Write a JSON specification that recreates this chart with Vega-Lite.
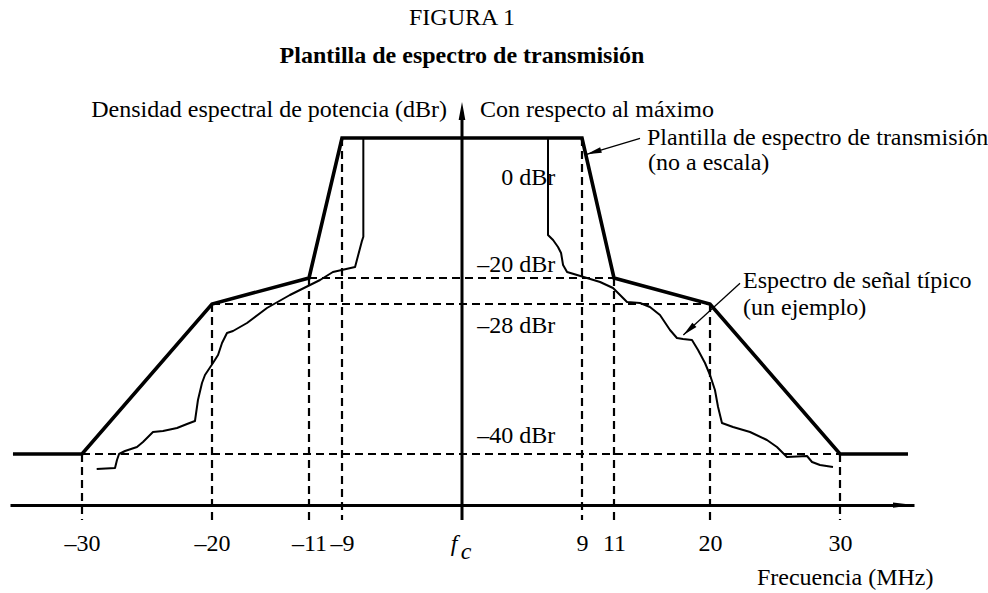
{
  "$schema": "https://vega.github.io/schema/vega-lite/v6.json",
  "autosize": {"type": "none"},
  "padding": {"left": 10, "top": 90, "right": 74, "bottom": 88},
  "width": 904,
  "height": 415,
  "background": "white",
  "config": {"view": {"stroke": null}, "font": "Liberation Serif"},
  "title": {
    "text": "FIGURA 1",
    "subtitle": "Plantilla de espectro de transmisión",
    "font": "Liberation Serif",
    "fontSize": 24,
    "fontWeight": "normal",
    "color": "black",
    "subtitleFont": "Liberation Serif",
    "subtitleFontSize": 24,
    "subtitleFontWeight": "bold",
    "subtitleColor": "black",
    "subtitlePadding": 14,
    "offset": 22,
    "anchor": "middle",
    "frame": "group"
  },
  "datasets": {
    "plantilla": [
      {"f": -35.31, "dBr": -40, "n": 1},
      {"f": -30, "dBr": -40, "n": 2},
      {"f": -20, "dBr": -28, "n": 3},
      {"f": -11, "dBr": -20, "n": 4},
      {"f": -9, "dBr": 0, "n": 5},
      {"f": 9, "dBr": 0, "n": 6},
      {"f": 11, "dBr": -20, "n": 7},
      {"f": 20, "dBr": -28, "n": 8},
      {"f": 30, "dBr": -40, "n": 9},
      {"f": 35.23, "dBr": -40, "n": 10}
    ],
    "senal": [
      {"tramo": "izquierda", "n": 1, "f": -28.87, "dBr": -41.2},
      {"tramo": "izquierda", "n": 2, "f": -27.46, "dBr": -41.12},
      {"tramo": "izquierda", "n": 3, "f": -27.31, "dBr": -40.48},
      {"tramo": "izquierda", "n": 4, "f": -27.15, "dBr": -40.0},
      {"tramo": "izquierda", "n": 5, "f": -26.69, "dBr": -39.76},
      {"tramo": "izquierda", "n": 6, "f": -25.77, "dBr": -39.44},
      {"tramo": "izquierda", "n": 7, "f": -25.31, "dBr": -39.04},
      {"tramo": "izquierda", "n": 8, "f": -24.54, "dBr": -38.24},
      {"tramo": "izquierda", "n": 9, "f": -23.77, "dBr": -38.16},
      {"tramo": "izquierda", "n": 10, "f": -22.69, "dBr": -37.92},
      {"tramo": "izquierda", "n": 11, "f": -21.92, "dBr": -37.6},
      {"tramo": "izquierda", "n": 12, "f": -21.31, "dBr": -37.36},
      {"tramo": "izquierda", "n": 13, "f": -21.08, "dBr": -35.68},
      {"tramo": "izquierda", "n": 14, "f": -20.77, "dBr": -34.32},
      {"tramo": "izquierda", "n": 15, "f": -20.54, "dBr": -33.68},
      {"tramo": "izquierda", "n": 16, "f": -19.91, "dBr": -32.72},
      {"tramo": "izquierda", "n": 17, "f": -19.44, "dBr": -32.08},
      {"tramo": "izquierda", "n": 18, "f": -19.07, "dBr": -31.12},
      {"tramo": "izquierda", "n": 19, "f": -18.61, "dBr": -30.32},
      {"tramo": "izquierda", "n": 20, "f": -18.05, "dBr": -30.16},
      {"tramo": "izquierda", "n": 21, "f": -16.75, "dBr": -29.52},
      {"tramo": "izquierda", "n": 22, "f": -14.9, "dBr": -28.32},
      {"tramo": "izquierda", "n": 23, "f": -12.77, "dBr": -25.23},
      {"tramo": "izquierda", "n": 24, "f": -10.33, "dBr": -20.62},
      {"tramo": "izquierda", "n": 25, "f": -9.55, "dBr": -19.14},
      {"tramo": "izquierda", "n": 26, "f": -8.02, "dBr": -18.43},
      {"tramo": "izquierda", "n": 27, "f": -7.52, "dBr": -14.81},
      {"tramo": "izquierda", "n": 28, "f": -7.4, "dBr": -14.1},
      {"tramo": "izquierda", "n": 29, "f": -7.4, "dBr": 0},
      {"tramo": "derecha", "n": 30, "f": 6.45, "dBr": 0},
      {"tramo": "derecha", "n": 31, "f": 6.45, "dBr": -13.86},
      {"tramo": "derecha", "n": 32, "f": 6.83, "dBr": -14.57},
      {"tramo": "derecha", "n": 33, "f": 7.2, "dBr": -15.57},
      {"tramo": "derecha", "n": 34, "f": 7.43, "dBr": -16.43},
      {"tramo": "derecha", "n": 35, "f": 7.58, "dBr": -18.14},
      {"tramo": "derecha", "n": 36, "f": 7.88, "dBr": -19.14},
      {"tramo": "derecha", "n": 37, "f": 8.63, "dBr": -19.57},
      {"tramo": "derecha", "n": 38, "f": 9.31, "dBr": -20.0},
      {"tramo": "derecha", "n": 39, "f": 10.13, "dBr": -21.23},
      {"tramo": "derecha", "n": 40, "f": 10.94, "dBr": -23.08},
      {"tramo": "derecha", "n": 41, "f": 12.22, "dBr": -27.38},
      {"tramo": "derecha", "n": 42, "f": 13.44, "dBr": -27.69},
      {"tramo": "derecha", "n": 43, "f": 14.37, "dBr": -28.24},
      {"tramo": "derecha", "n": 44, "f": 15.31, "dBr": -28.88},
      {"tramo": "derecha", "n": 45, "f": 16.25, "dBr": -30.08},
      {"tramo": "derecha", "n": 46, "f": 16.9, "dBr": -30.72},
      {"tramo": "derecha", "n": 47, "f": 17.47, "dBr": -30.8},
      {"tramo": "derecha", "n": 48, "f": 18.31, "dBr": -30.88},
      {"tramo": "derecha", "n": 49, "f": 18.88, "dBr": -31.68},
      {"tramo": "derecha", "n": 50, "f": 19.53, "dBr": -32.72},
      {"tramo": "derecha", "n": 51, "f": 20.0, "dBr": -33.68},
      {"tramo": "derecha", "n": 52, "f": 20.38, "dBr": -34.88},
      {"tramo": "derecha", "n": 53, "f": 20.62, "dBr": -36.24},
      {"tramo": "derecha", "n": 54, "f": 20.92, "dBr": -37.52},
      {"tramo": "derecha", "n": 55, "f": 21.77, "dBr": -37.84},
      {"tramo": "derecha", "n": 56, "f": 23.08, "dBr": -38.24},
      {"tramo": "derecha", "n": 57, "f": 24.38, "dBr": -38.88},
      {"tramo": "derecha", "n": 58, "f": 25.15, "dBr": -39.44},
      {"tramo": "derecha", "n": 59, "f": 25.92, "dBr": -40.24},
      {"tramo": "derecha", "n": 60, "f": 27.46, "dBr": -40.16},
      {"tramo": "derecha", "n": 61, "f": 27.85, "dBr": -40.64},
      {"tramo": "derecha", "n": 62, "f": 28.46, "dBr": -40.88},
      {"tramo": "derecha", "n": 63, "f": 29.46, "dBr": -41.04}
    ],
    "guias": [
      {"f": -11, "f2": 11, "dBr": -20, "dBr2": -20},
      {"f": -20, "f2": 20, "dBr": -28, "dBr2": -28},
      {"f": -30, "f2": 30, "dBr": -40, "dBr2": -40},
      {"f": -30, "f2": -30, "dBr": -40, "dBr2": -45.28},
      {"f": -20, "f2": -20, "dBr": -28, "dBr2": -45.28},
      {"f": -11, "f2": -11, "dBr": -20, "dBr2": -45.28},
      {"f": -9, "f2": -9, "dBr": 0, "dBr2": -45.28},
      {"f": 9, "f2": 9, "dBr": 0, "dBr2": -45.28},
      {"f": 11, "f2": 11, "dBr": -20, "dBr2": -45.28},
      {"f": 20, "f2": 20, "dBr": -28, "dBr2": -45.28},
      {"f": 30, "f2": 30, "dBr": -40, "dBr2": -45.28}
    ],
    "eje": [{"f": 0, "f2": 0, "dBr": -45.28, "dBr2": 2.6}],
    "flechas": [
      {"nombre": "plantilla", "f": 13.44, "dBr": -0.04, "f2": 9.29, "dBr2": -2.33},
      {"nombre": "espectro", "f": 22.31, "dBr": -21.63, "f2": 17.5, "dBr2": -30.48}
    ],
    "puntas": [
      {"nombre": "eje_y", "f": 0, "dBr": 5.14},
      {"nombre": "eje_x", "f": 35.69, "dBr": -44.08},
      {"nombre": "plantilla", "f": 9.29, "dBr": -2.33},
      {"nombre": "espectro", "f": 17.5, "dBr": -30.48}
    ],
    "textos_der": [
      {"t": "Densidad espectral de potencia (dBr)", "f": -1.12, "dBr": 3.0},
      {"t": "0 dBr", "f": 7.0, "dBr": -6.71},
      {"t": "–20 dBr", "f": 7.0, "dBr": -19.1},
      {"t": "–28 dBr", "f": 7.0, "dBr": -30.32},
      {"t": "–40 dBr", "f": 7.0, "dBr": -39.12}
    ],
    "textos_izq": [
      {"t": "Con respecto al máximo", "f": 1.35, "dBr": 3.0},
      {"t": "Plantilla de espectro de transmisión", "f": 14.09, "dBr": -1.0},
      {"t": "(no a escala)", "f": 14.19, "dBr": -4.57},
      {"t": "Espectro de señal típico", "f": 22.54, "dBr": -23.08},
      {"t": "(un ejemplo)", "f": 22.54, "dBr": -28.88}
    ],
    "subindice": [{"t": "c", "f": -0.1, "dBr": -48.4}]
  },
  "encoding": {
    "x": {
      "field": "f", "type": "quantitative",
      "scale": {"domain": [-35.538, -30, -20, -11, -9, 0, 9, 11, 20, 30, 35.692], "range": [0, 72, 202, 299, 332, 452, 572, 604, 700, 830, 904], "nice": false, "zero": false},
      "axis": {
        "values": [-30, -20, -11, -9, 0, 9, 11, 20, 30],
        "labelExpr": "datum.value == 0 ? 'f' : (datum.value < 0 ? '–' + (-datum.value) : '' + datum.value)",
        "labelFont": "Liberation Serif",
        "labelFontSize": 24,
        "labelColor": "black",
        "labelFontStyle": {"condition": {"test": "datum.value == 0", "value": "italic"}, "value": "normal"},
        "labelAlign": {"condition": {"test": "datum.value == 0", "value": "right"}, "value": "center"},
        "labelOffset": {"condition": {"test": "datum.value == 0", "value": -5}, "value": 0},
        "labelBaseline": "alphabetic",
        "labelPadding": 45,
        "labelFlush": false,
        "labelOverlap": false,
        "labelBound": false,
        "ticks": false,
        "grid": false,
        "domain": true,
        "domainColor": "black",
        "domainWidth": 3,
        "title": "Frecuencia (MHz)",
        "titleFont": "Liberation Serif",
        "titleFontSize": 24,
        "titleFontWeight": "normal",
        "titleColor": "black",
        "titleX": 923,
        "titleY": 79,
        "titleAlign": "right",
        "titleBaseline": "alphabetic",
        "titleAngle": 0
      }
    },
    "y": {
      "field": "dBr", "type": "quantitative",
      "scale": {"domain": [-48, -40, -28, -20, 0, 12], "range": [464, 364, 214, 188, 48, -36], "nice": false, "zero": false},
      "axis": null
    }
  },
  "layer": [
    {
      "data": {"name": "guias"},
      "mark": {"type": "rule", "color": "black", "strokeWidth": 2.2, "strokeDash": [8, 5]},
      "encoding": {"x2": {"field": "f2"}, "y2": {"field": "dBr2"}}
    },
    {
      "data": {"name": "eje"},
      "mark": {"type": "rule", "color": "black", "strokeWidth": 3},
      "encoding": {"y2": {"field": "dBr2"}}
    },
    {
      "data": {"name": "senal"},
      "mark": {"type": "line", "color": "black", "strokeWidth": 2, "strokeJoin": "round"},
      "encoding": {
        "detail": {"field": "tramo", "type": "nominal"},
        "order": {"field": "n", "type": "quantitative"}
      }
    },
    {
      "data": {"name": "plantilla"},
      "mark": {"type": "line", "color": "black", "strokeWidth": 3.6, "strokeJoin": "miter"},
      "encoding": {"order": {"field": "n", "type": "quantitative"}}
    },
    {
      "data": {"name": "flechas"},
      "mark": {"type": "rule", "color": "black", "strokeWidth": 1.3},
      "encoding": {"x2": {"field": "f2"}, "y2": {"field": "dBr2"}}
    },
    {
      "data": {"name": "puntas"},
      "transform": [{"filter": "datum.nombre == 'eje_y'"}],
      "mark": {"type": "point", "filled": true, "color": "black", "opacity": 1, "strokeWidth": 0, "shape": "M0,0L0.37,2L-0.37,2Z", "size": 324},
      "encoding": {}
    },
    {
      "data": {"name": "puntas"},
      "transform": [{"filter": "datum.nombre == 'eje_x'"}],
      "mark": {"type": "point", "filled": true, "color": "black", "opacity": 1, "strokeWidth": 0, "shape": "M0,0L-2,-0.25L-2,0.25Z", "size": 441},
      "encoding": {}
    },
    {
      "data": {"name": "puntas"},
      "transform": [{"filter": "datum.nombre == 'plantilla'"}],
      "mark": {"type": "point", "filled": true, "color": "black", "opacity": 1, "strokeWidth": 0, "shape": "M0,0L-2,-0.4L-2,0.4Z", "size": 225, "angle": 163.3},
      "encoding": {}
    },
    {
      "data": {"name": "puntas"},
      "transform": [{"filter": "datum.nombre == 'espectro'"}],
      "mark": {"type": "point", "filled": true, "color": "black", "opacity": 1, "strokeWidth": 0, "shape": "M0,0L-2,-0.4L-2,0.4Z", "size": 225, "angle": 137.6},
      "encoding": {}
    },
    {
      "data": {"name": "textos_der"},
      "mark": {"type": "text", "font": "Liberation Serif", "fontSize": 24, "color": "black", "align": "right", "baseline": "alphabetic"},
      "encoding": {"text": {"field": "t"}}
    },
    {
      "data": {"name": "textos_izq"},
      "mark": {"type": "text", "font": "Liberation Serif", "fontSize": 24, "color": "black", "align": "left", "baseline": "alphabetic"},
      "encoding": {"text": {"field": "t"}}
    },
    {
      "data": {"name": "subindice"},
      "mark": {"type": "text", "font": "Liberation Serif", "fontSize": 24, "fontStyle": "italic", "color": "black", "align": "left", "baseline": "alphabetic"},
      "encoding": {"text": {"field": "t"}}
    }
  ]
}
